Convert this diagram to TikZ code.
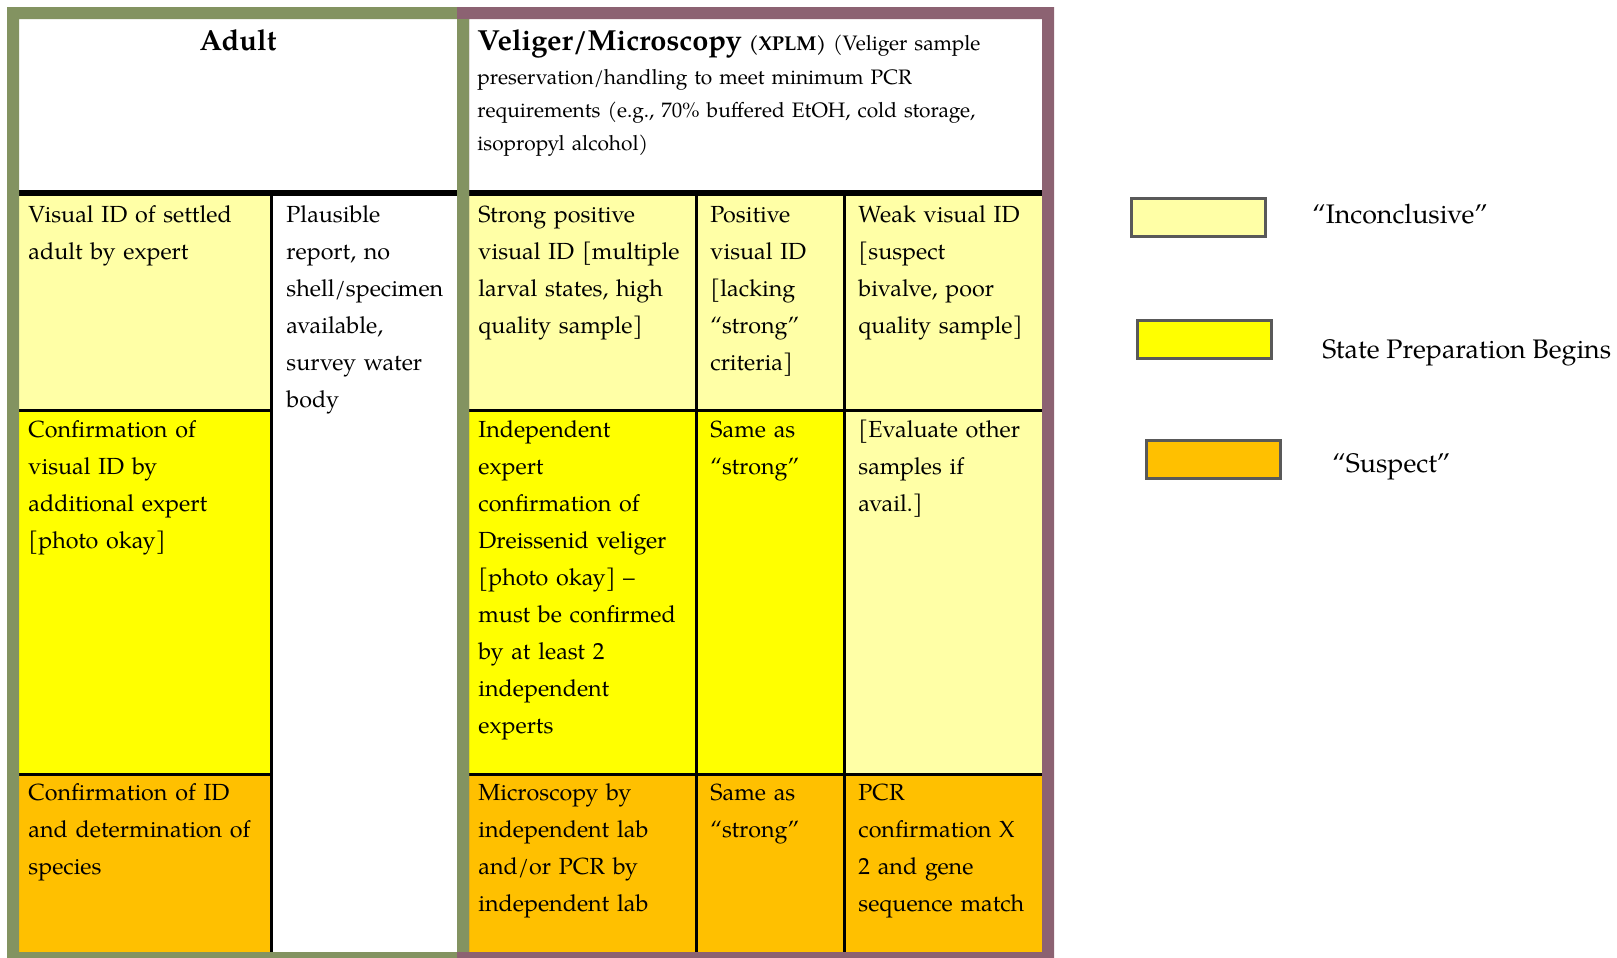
\documentclass[tikz,border=0pt]{standalone}
\usepackage{fontspec}
\setmainfont{texgyrepagella}[Extension=.otf, UprightFont=*-regular, BoldFont=*-bold, ItalicFont=*-italic, BoldItalicFont=*-bolditalic]
\definecolor{lyel}{HTML}{FFFFA6}
\definecolor{yel}{HTML}{FFFF00}
\definecolor{org}{HTML}{FFC000}
\definecolor{grn}{HTML}{839361}
\definecolor{pur}{HTML}{8C6272}
\definecolor{lgb}{HTML}{595959}
\tikzset{
  cell/.style={anchor=base west, inner sep=0pt, align=left, text width=150pt, font=\fontsize{11.65}{18.55}\selectfont},
  hdr/.style={anchor=base west, inner sep=0pt, align=left, text width=285pt, font=\fontsize{10.45}{16.5}\selectfont},
  legbox/.style={draw=lgb, line width=1.5pt, inner sep=0pt, minimum width=67pt, minimum height=19pt},
  legtxt/.style={anchor=base west, inner sep=0pt, font=\fontsize{13.4}{16}\selectfont},
  thinrule/.style={line width=1.5pt, black},
  thickrule/.style={line width=3pt, black},
}
\begin{document}
\begin{tikzpicture}[x=0.5pt,y=-0.5pt]
\useasboundingbox (0,0) rectangle (1617,958);
% cell fills
\fill[lyel] (19,196) rectangle (271,410);
\fill[yel] (19,410) rectangle (271,774.5);
\fill[org] (19,774.5) rectangle (271,952);
\fill[lyel] (469,196) rectangle (1042,410);
\fill[yel] (469,410) rectangle (844,774.5);
\fill[lyel] (844,410) rectangle (1042,774.5);
\fill[org] (469,774.5) rectangle (1042,952);
% rules
\draw[thickrule] (19,193) -- (1042,193);
\draw[thinrule] (19,410) -- (271,410);
\draw[thinrule] (469,410) -- (1042,410);
\draw[thinrule] (19,774.5) -- (271,774.5);
\draw[thinrule] (469,774.5) -- (1042,774.5);
\draw[thinrule] (271,196) -- (271,952);
\draw[thinrule] (696,196) -- (696,952);
\draw[thinrule] (844,196) -- (844,952);
% frames
\fill[grn, even odd rule] (7,7) rectangle (469,964) (19,19) rectangle (457,952);
\fill[pur, even odd rule] (457,7) rectangle (1054,964) (469,19) rectangle (1042,952);
\fill[grn] (457,19) rectangle (469,952);
% headers
\node[anchor=base, inner sep=0pt, font=\fontsize{14.5}{17}\selectfont\bfseries] (adult) at (238,50) {Adult};
\node[hdr] (vtitle) at (477,50) {{\fontsize{14.5}{17}\selectfont\bfseries Veliger/Microscopy} {\fontsize{10}{12}\selectfont\bfseries (XPLM)} (Veliger sample};
\node[hdr] (vdesc) at (477,84.5) {preservation/handling to meet minimum PCR\\requirements (e.g., 70\% buffered EtOH, cold storage,\\isopropyl alcohol)};
% adult cells
\node[cell] (a1) at (28,222) {Visual ID of settled\\adult by expert};
\node[cell] (a2) at (286,222) {Plausible\\report, no\\shell/specimen\\available,\\survey water\\body};
\node[cell] (a3) at (28,437) {Confirmation of\\visual ID by\\additional expert\\{}[photo okay]};
\node[cell] (a4) at (28,800) {Confirmation of ID\\and determination of\\species};
% veliger cells
\node[cell] (v11) at (478,222) {Strong positive\\visual ID [multiple\\larval states, high\\quality sample]};
\node[cell] (v12) at (710,222) {Positive\\visual ID\\{}[lacking\\“strong”\\criteria]};
\node[cell] (v13) at (858,222) {Weak visual ID\\{}[suspect\\bivalve, poor\\quality sample]};
\node[cell] (v21) at (478,437) {Independent\\expert\\confirmation of\\Dreissenid veliger\\{}[photo okay] –\\must be confirmed\\by at least 2\\independent\\experts};
\node[cell] (v22) at (710,437) {Same as\\“strong”};
\node[cell] (v23) at (858,437) {{}[Evaluate other\\samples if\\avail.]};
\node[cell] (v31) at (478,800) {Microscopy by\\independent lab\\and/or PCR by\\independent lab};
\node[cell] (v32) at (710,800) {Same as\\“strong”};
\node[cell] (v33) at (858,800) {PCR\\confirmation X\\2 and gene\\sequence match};
% legend
\node[legbox, fill=lyel] (lg1) at (1198.5,217.5) {};
\node[legbox, fill=yel] (lg2) at (1204.5,339.5) {};
\node[legbox, fill=org] (lg3) at (1213.5,459) {};
\node[legtxt] (lt1) at (1312,223) {“Inconclusive”};
\node[legtxt] (lt2) at (1322,358) {State Preparation Begins};
\node[legtxt] (lt3) at (1332,472) {“Suspect”};
\end{tikzpicture}
\end{document}
